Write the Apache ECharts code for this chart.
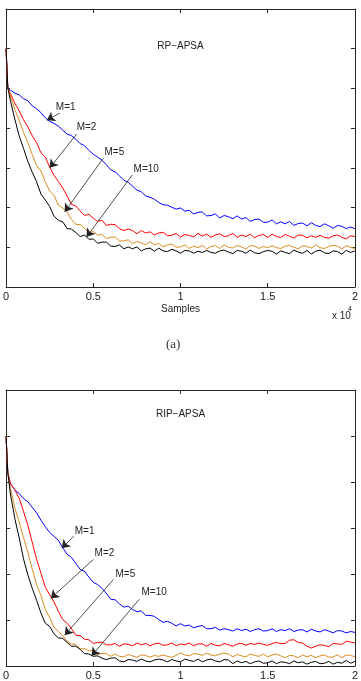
<!DOCTYPE html>
<html>
<head>
<meta charset="utf-8">
<script src="https://cdn.jsdelivr.net/npm/echarts@6/dist/echarts.min.js"></script>
<style>
html, body { margin: 0; padding: 0; background: #fff; }
#chart { width: 361px; height: 681px; }
</style>
</head>
<body>
<div id="chart"></div>
<script>
// sample index (x) shared by all curves
var samples = [0,100,250,500,750,1000,1250,1500,1750,2000,2250,2500,2750,3000,3250,3500,3750,4000,4250,4500,
  4750,5000,5250,5500,5750,6000,6250,6500,6750,7000,7250,7500,7750,8000,8250,8500,8750,9000,9250,9500,
  9750,10000,10250,10500,10750,11000,11250,11500,11750,12000,12250,12500,12750,13000,13250,13500,13750,14000,14250,14500,
  14750,15000,15250,15500,15750,16000,16250,16500,16750,17000,17250,17500,17750,18000,18250,18500,18750,19000,19250,19500,
  19750,20000];

var xTickLabels = ["0", "0.5", "1", "1.5", "2"];

// (a) RP-APSA, MSD in dB
var rpM1 = [0,-9.8,-10.4,-11.2,-11.6,-12.6,-13.1,-14.4,-15.1,-16.1,
  -17.4,-18.3,-18.8,-19.5,-20.5,-21.5,-21.9,-22.8,-23.9,-24.4,
  -25.6,-26.6,-27.3,-28.1,-29.2,-30.5,-31.0,-32.0,-33.1,-33.6,
  -34.6,-35.6,-36.0,-37.1,-37.4,-37.9,-38.7,-39.3,-39.4,-39.9,
  -40.4,-40.1,-40.9,-40.7,-41.6,-41.2,-41.1,-42.1,-42.0,-41.6,
  -42.6,-42.0,-42.3,-42.8,-42.1,-42.9,-42.5,-43.5,-43.0,-42.9,
  -43.7,-43.7,-43.1,-44.1,-43.6,-44.1,-43.5,-44.5,-44.0,-43.9,
  -44.6,-43.8,-44.5,-44.8,-44.1,-44.6,-45.2,-44.5,-44.7,-45.3,
  -44.9,-45.3];
var rpM2 = [0,-9.8,-11.3,-13.7,-15.6,-17.9,-19.7,-21.9,-23.7,-26.2,
  -27.3,-29.8,-31.9,-33.4,-35.1,-37.1,-39.2,-39.6,-40.9,-42.0,
  -41.7,-42.7,-43.5,-43.2,-44.5,-44.2,-44.3,-45.3,-45.8,-45.4,
  -45.8,-46.6,-45.8,-46.4,-46.1,-46.9,-46.4,-46.2,-47.1,-47.0,
  -46.5,-47.4,-46.8,-47.0,-47.4,-46.5,-47.2,-46.7,-47.5,-46.9,
  -46.6,-47.3,-47.1,-46.5,-47.5,-46.9,-47.3,-46.7,-47.6,-47.0,
  -46.8,-47.5,-46.7,-47.3,-47.5,-46.8,-47.2,-47.7,-46.9,-47.0,
  -47.6,-47.1,-47.5,-47.0,-47.5,-47.7,-47.1,-46.9,-47.5,-47.9,
  -47.1,-47.3];
var rpM5 = [0,-9.8,-11.9,-15.3,-18.0,-21.1,-23.7,-26.6,-29.4,-30.8,
  -33.5,-35.8,-36.9,-39.4,-40.1,-41.1,-43.0,-44.2,-44.3,-45.2,
  -46.4,-46.0,-46.9,-46.8,-47.8,-47.5,-47.4,-48.4,-48.4,-48.1,
  -49.1,-48.5,-48.9,-49.4,-48.6,-49.4,-49.0,-49.9,-49.4,-49.2,
  -50.0,-49.9,-49.4,-50.3,-49.7,-50.1,-49.5,-50.4,-49.8,-49.6,
  -50.3,-49.4,-50.0,-50.2,-49.5,-49.9,-50.4,-49.6,-49.7,-50.3,
  -49.8,-50.1,-49.6,-50.1,-50.3,-49.7,-49.5,-50.0,-50.4,-49.6,
  -49.8,-50.2,-49.4,-50.1,-50.3,-49.8,-49.5,-49.7,-50.4,-49.6,
  -50.0,-50.3];
var rpM10 = [0,-9.8,-13.1,-17.7,-21.9,-25.1,-28.4,-31.1,-33.5,-36.6,
  -38.1,-39.7,-42.2,-43.2,-43.6,-45.3,-45.4,-46.3,-47.3,-46.9,
  -48.0,-47.9,-49.0,-48.7,-48.7,-49.7,-49.8,-49.4,-50.4,-49.9,
  -50.4,-49.9,-50.9,-50.4,-50.2,-51.0,-50.2,-50.9,-51.1,-50.5,
  -50.9,-51.5,-50.8,-50.9,-51.5,-51.0,-51.3,-50.8,-51.3,-51.5,
  -50.9,-50.7,-51.2,-51.6,-50.8,-51.0,-51.5,-50.7,-51.4,-51.6,
  -51.1,-50.8,-51.0,-51.7,-50.9,-51.3,-51.6,-50.7,-51.2,-51.5,
  -50.8,-51.7,-51.0,-50.7,-51.4,-51.6,-50.9,-51.1,-51.7,-50.8,
  -51.3,-50.9];

// (b) RIP-APSA, MSD in dB
var ripM1 = [0,-8.0,-10.4,-11.7,-12.5,-13.6,-14.3,-15.5,-16.7,-18.3,
  -19.7,-21.0,-21.8,-22.7,-24.3,-25.7,-26.4,-27.7,-29.0,-29.4,
  -30.7,-31.8,-32.3,-33.1,-34.2,-35.5,-35.6,-36.5,-37.2,-37.0,
  -37.7,-38.2,-38.0,-39.0,-39.0,-39.2,-39.9,-40.5,-40.3,-40.7,
  -41.3,-40.8,-41.3,-41.1,-41.7,-41.4,-41.2,-41.9,-41.9,-41.6,
  -42.2,-41.9,-42.1,-42.4,-41.9,-42.3,-42.0,-42.5,-42.1,-41.9,
  -42.4,-42.3,-41.9,-42.5,-42.1,-42.3,-41.9,-42.5,-42.2,-42.1,
  -42.6,-42.0,-42.4,-42.6,-42.1,-42.4,-42.8,-42.3,-42.4,-42.8,
  -42.5,-42.7];
var ripM2 = [0,-8.0,-10.3,-11.7,-13.5,-16.4,-19.4,-23.1,-26.8,-29.8,
  -32.9,-34.5,-36.1,-38.1,-39.9,-40.7,-41.9,-43.3,-43.4,-44.2,
  -44.3,-45.1,-44.9,-44.8,-45.4,-45.4,-45.1,-45.7,-45.2,-45.3,
  -45.6,-45.0,-45.4,-45.1,-45.6,-45.2,-45.0,-45.5,-45.4,-45.0,
  -45.6,-45.2,-45.4,-45.0,-45.6,-45.2,-45.2,-45.7,-45.1,-45.5,
  -45.6,-45.1,-45.4,-45.7,-45.2,-45.1,-45.5,-45.1,-45.3,-45.0,
  -45.3,-45.5,-45.1,-44.9,-45.1,-45.1,-44.4,-44.3,-44.9,-45.0,
  -45.7,-46.1,-45.7,-45.4,-45.5,-45.8,-45.1,-45.2,-45.3,-44.6,
  -44.8,-45.0];
var ripM5 = [0,-8.0,-11.4,-15.6,-18.7,-22.1,-25.3,-28.9,-32.3,-34.7,
  -37.7,-39.5,-41.6,-42.5,-43.4,-44.7,-45.2,-45.3,-46.3,-46.2,
  -46.7,-46.6,-47.5,-47.3,-47.3,-47.9,-47.4,-47.9,-48.0,-47.5,
  -47.8,-48.1,-47.6,-47.7,-48.1,-47.7,-47.9,-47.6,-47.9,-48.1,
  -47.7,-47.2,-47.6,-47.8,-47.3,-47.4,-47.7,-47.2,-47.6,-47.8,
  -47.4,-47.2,-47.4,-48.0,-47.5,-47.8,-48.0,-47.4,-47.7,-47.9,
  -47.4,-48.0,-47.6,-47.4,-47.8,-48.2,-47.7,-47.8,-48.2,-47.6,
  -48.0,-47.7,-48.2,-47.8,-47.6,-48.1,-48.0,-47.6,-48.2,-47.6,
  -47.7,-48.0];
var ripM10 = [0,-8.0,-12.6,-17.9,-22.1,-26.7,-30.2,-33.1,-35.7,-38.5,
  -40.7,-41.4,-43.0,-43.9,-44.0,-44.9,-45.7,-45.7,-46.4,-47.3,
  -47.4,-47.9,-47.8,-48.3,-48.6,-48.3,-48.2,-48.9,-49.1,-48.6,
  -48.7,-49.0,-48.5,-48.9,-49.1,-48.7,-48.5,-48.7,-49.1,-48.6,
  -48.9,-49.1,-48.5,-48.8,-49.0,-48.5,-49.1,-48.7,-48.5,-48.9,
  -49.1,-48.6,-48.7,-49.5,-48.9,-49.3,-49.0,-49.5,-49.1,-48.9,
  -49.4,-49.3,-48.9,-49.5,-49.1,-49.2,-49.5,-48.9,-49.3,-49.1,
  -49.6,-49.2,-49.0,-49.5,-49.4,-49.0,-49.6,-49.2,-49.4,-48.8,
  -49.4,-49.0];

// arrow annotations, in data units: label centre, arrow tail, arrow head
var rpNotes = [
  { text: "M=1", at: [3419, -14.7], from: [3077, -16.2], to: [2336, -18.0] },
  { text: "M=2", at: [4615, -19.7], from: [4046, -21.5], to: [2507, -30.0] },
  { text: "M=5", at: [6211, -26.0], from: [5584, -27.5], to: [3362, -41.1] },
  { text: "M=10", at: [8034, -30.3], from: [7236, -31.8], to: [4615, -47.4] }
];
var ripNotes = [
  { text: "M=1", at: [4501, -20.8], from: [3875, -21.8], to: [3191, -24.4] },
  { text: "M=2", at: [5641, -25.5], from: [5014, -26.8], to: [2564, -35.3] },
  { text: "M=5", at: [6838, -30.1], from: [6154, -31.2], to: [3362, -43.3] },
  { text: "M=10", at: [8490, -34.0], from: [7635, -35.5], to: [4900, -47.8] }
];

var font = "Liberation Sans, Arial, sans-serif";
var axisColor = "#262626";
var colors = { m1: "#0000ff", m2: "#ff0000", m5: "#dd8b1e", m10: "#000000" };

function pairs(ys) {
  return samples.map(function (s, i) { return [s, ys[i]]; });
}

function xAx(grid, bottom, name) {
  return {
    type: "value", gridIndex: grid, position: bottom ? "bottom" : "top",
    min: 0, max: 20000, interval: 5000,
    name: name || "", nameLocation: "middle", nameGap: 17,
    nameTextStyle: { fontFamily: font, fontSize: 10, color: "#222" },
    axisLine: { show: true, onZero: false, lineStyle: { color: axisColor, width: 1 } },
    axisTick: { show: true, inside: true, length: 4, lineStyle: { color: axisColor } },
    axisLabel: {
      show: bottom, margin: 4, fontSize: 11, color: "#222", fontFamily: font,
      showMinLabel: true, showMaxLabel: true,
      formatter: function (v) { return xTickLabels[Math.round(v / 5000)]; }
    },
    splitLine: { show: false }
  };
}

function yAx(grid, left, min, max) {
  return {
    type: "value", gridIndex: grid, position: left ? "left" : "right",
    min: min, max: max, interval: 10,
    axisLine: { show: true, onZero: false, lineStyle: { color: axisColor, width: 1 } },
    axisTick: { show: true, inside: true, length: 4, lineStyle: { color: axisColor } },
    axisLabel: { show: false },
    splitLine: { show: false }
  };
}

function curve(ys, color, grid, notes) {
  var s = {
    type: "line", xAxisIndex: grid, yAxisIndex: grid,
    data: pairs(ys), showSymbol: false, symbol: "none",
    lineStyle: { color: color, width: 1 }, itemStyle: { color: color },
    silent: true, z: 2
  };
  if (notes) {
    s.markLine = {
      silent: true, symbol: ["none", "arrow"], symbolSize: 8,
      lineStyle: { color: "#222", width: 0.8, type: "solid" },
      itemStyle: { color: "#111" },
      label: { show: false },
      emphasis: { disabled: true },
      data: notes.map(function (n) {
        return [{ coord: n.from }, { coord: n.to }];
      })
    };
    s.markPoint = {
      silent: true, symbol: "rect", symbolSize: 1,
      itemStyle: { color: "rgba(0,0,0,0)" },
      label: { show: true, position: "inside", color: "#222", fontSize: 10, fontFamily: font,
        formatter: function (p) { return p.name; } },
      data: notes.map(function (n) { return { name: n.text, coord: n.at }; })
    };
  }
  return s;
}

var chart = echarts.init(document.getElementById("chart"), null, { renderer: "canvas" });

chart.setOption({
  animation: false,
  backgroundColor: "#fff",
  title: [
    { text: "RP\u2212APSA", left: "center", top: 36,
      textStyle: { fontFamily: font, fontSize: 10, fontWeight: "normal", color: "#222" } },
    { text: "RIP\u2212APSA", left: "center", top: 404,
      textStyle: { fontFamily: font, fontSize: 10, fontWeight: "normal", color: "#222" } }
  ],
  grid: [
    { left: 4, right: 6, top: 9, height: 278 },
    { left: 4, right: 6, top: 390, height: 277 }
  ],
  xAxis: [xAx(0, true, "Samples"), xAx(1, true), xAx(0, false), xAx(1, false)],
  yAxis: [yAx(0, true, -60, 10), yAx(1, true, -50, 10), yAx(0, false, -60, 10), yAx(1, false, -50, 10)],
  series: [
    curve(rpM1, colors.m1, 0),
    curve(rpM2, colors.m2, 0),
    curve(rpM5, colors.m5, 0),
    curve(rpM10, colors.m10, 0, rpNotes),
    curve(ripM1, colors.m1, 1),
    curve(ripM2, colors.m2, 1),
    curve(ripM5, colors.m5, 1),
    curve(ripM10, colors.m10, 1, ripNotes)
  ],
  graphic: [
    { type: "text", left: 332, top: 311, style: { text: "x 10", font: "10px " + font, fill: "#222" } },
    { type: "text", left: 348, top: 306, style: { text: "4", font: "7px " + font, fill: "#222" } },
    { type: "text", left: 166, top: 338, style: { text: "(a)", font: "13px Liberation Serif, DejaVu Serif, serif", fill: "#333" } }
  ]
});
</script>
</body>
</html>
